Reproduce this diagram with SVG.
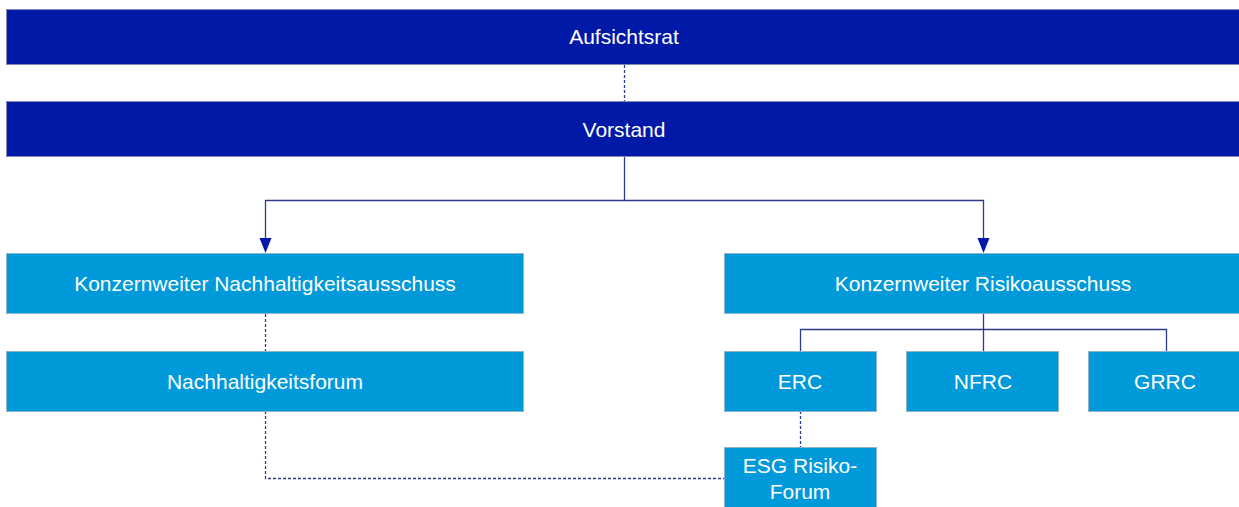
<svg xmlns="http://www.w3.org/2000/svg" width="1239" height="507" viewBox="0 0 1239 507">
<style>
.dk{fill:#0019A6;stroke:#7f8ab8;stroke-width:1}
.lt{fill:#0099DA;stroke:#8fb4cc;stroke-width:1}
text{font-family:"Liberation Sans",Arial,sans-serif;font-size:21px;fill:#ffffff;text-anchor:middle}
.c{fill:none;stroke:#2E3A8C;stroke-width:1.3}
.d{fill:none;stroke:#2E3A8C;stroke-width:1.3;stroke-dasharray:3 2}
.ah{fill:#0019A6}
</style>
<g id="connectors">
<path class="d" d="M624.5,65 V101"/>
<path class="c" d="M624.5,157 V200.5 H265.5 V239"/>
<path class="c" d="M624.5,200.5 H983.5 V239"/>
<path class="ah" d="M259.5,238 L271.5,238 L265.5,253 Z"/>
<path class="ah" d="M977.5,238 L989.5,238 L983.5,253 Z"/>
<path class="c" d="M983.5,314 V351 M800.5,351 V329.5 H1166.5 V351"/>
<path class="d" d="M265.5,314 V351 M265.5,411 V478.5 H724"/>
<path class="d" d="M800.5,411 V447"/>
</g>
<g id="aufsichtsrat"><rect class="dk" x="6.5" y="9.5" width="1233" height="55"/><text x="624" y="44">Aufsichtsrat</text></g>
<g id="vorstand"><rect class="dk" x="6.5" y="101.5" width="1233" height="55"/><text x="624" y="137">Vorstand</text></g>
<g id="nachhaltigkeitsausschuss"><rect class="lt" x="6.5" y="253.5" width="517" height="60"/><text x="265" y="291">Konzernweiter Nachhaltigkeitsausschuss</text></g>
<g id="risikoausschuss"><rect class="lt" x="724.5" y="253.5" width="515" height="60"/><text x="983" y="291">Konzernweiter Risikoausschuss</text></g>
<g id="nachhaltigkeitsforum"><rect class="lt" x="6.5" y="351.5" width="517" height="60"/><text x="265" y="389">Nachhaltigkeitsforum</text></g>
<g id="erc"><rect class="lt" x="724.5" y="351.5" width="152" height="60"/><text x="800" y="389">ERC</text></g>
<g id="nfrc"><rect class="lt" x="906.5" y="351.5" width="152" height="60"/><text x="983" y="389">NFRC</text></g>
<g id="grrc"><rect class="lt" x="1088.5" y="351.5" width="151" height="60"/><text x="1165" y="389">GRRC</text></g>
<g id="esg"><rect class="lt" x="724.5" y="447.5" width="152" height="60"/><text x="800" y="473">ESG Risiko-</text><text x="800" y="499">Forum</text></g>
</svg>
